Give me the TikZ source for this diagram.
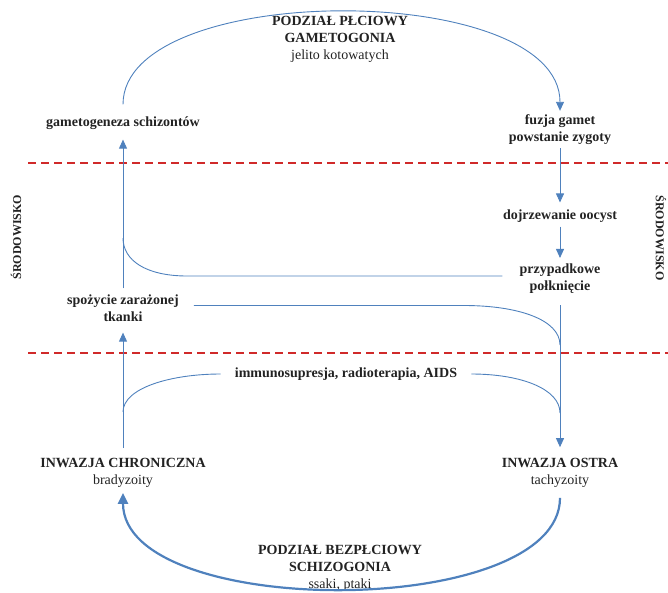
\documentclass[tikz,border=0pt]{standalone}
\usepackage{fontspec}
\setmainfont{Liberation Serif}
\usepackage{tikz}
\usetikzlibrary{arrows.meta}
\definecolor{Ink}{HTML}{222222}
\definecolor{Flow}{HTML}{4F81BD}
\definecolor{Border}{HTML}{D02A2A}
\tikzset{
  stage/.style={font=\fontsize{14}{17}\selectfont\bfseries,text=Ink,align=center,inner sep=2pt},
  side/.style={font=\fontsize{12}{14}\selectfont\bfseries,text=Ink,inner sep=0pt},
  link/.style={draw=Flow,line width=0.9pt},
  arrow/.style={link,-{Triangle[length=9pt,width=8pt]}},
  mainarrow/.style={draw=Flow,line width=2.2pt,-{Triangle[length=11pt,width=10pt]}},
  border/.style={draw=Border,line width=1.6pt,dash pattern=on 8pt off 5pt}
}
\begin{document}
\begin{tikzpicture}[x=1pt,y=-1pt]
  \useasboundingbox (0,0) rectangle (668,592);
  \node[stage] (sexual) at (340,39) {PODZIAŁ PŁCIOWY\\GAMETOGONIA\\\mdseries jelito kotowatych};
  \node[stage] (gameto) at (123,123) {gametogeneza schizontów};
  \node[stage] (fusion) at (560,130) {fuzja gamet\\powstanie zygoty};
  \node[stage] (oocyst) at (560,216) {dojrzewanie oocyst};
  \node[stage] (swallow) at (560,279) {przypadkowe\\połknięcie};
  \node[stage] (tissue) at (123,308) {spożycie zarażonej\\tkanki};
  \node[stage] (immuno) at (346,374) {immunosupresja, radioterapia, AIDS};
  \node[stage] (chronic) at (123,473) {INWAZJA CHRONICZNA\\\mdseries bradyzoity};
  \node[stage] (acute) at (560,473) {INWAZJA OSTRA\\\mdseries tachyzoity};
  \node[stage] (asexual) at (340,568) {PODZIAŁ BEZPŁCIOWY\\SCHIZOGONIA\\\mdseries ssaki, ptaki};
  \node[side,rotate=90] (envL) at (16,237) {ŚRODOWISKO};
  \node[side,rotate=-90] (envR) at (661,238) {ŚRODOWISKO};
  \coordinate (envTopA) at (28,163);
  \coordinate (envTopB) at (668,163);
  \coordinate (envBotA) at (28,353);
  \coordinate (envBotB) at (668,353);
  \draw[border] (envTopA) -- (envTopB);
  \draw[border] (envBotA) -- (envBotB);
  \coordinate (joinL) at (123,238);
  \coordinate (joinR) at (560,345);
  \coordinate (splitL) at (123,412);
  \coordinate (splitR) at (560,413);
  \draw[arrow] ([yshift=10pt]gameto.north) .. controls (123,-20) and (560,-20) .. ([yshift=2pt]fusion.north);
  \draw[arrow,shorten <=1pt,shorten >=5pt] (fusion.south) -- (oocyst.north);
  \draw[arrow,shorten <=2pt,shorten >=4pt] (oocyst.south) -- (swallow.north);
  \draw[link] ([shift={(-15,-3)}]swallow.west) -- +(-315,0) .. controls +(-42,0) and +(0,22) .. (joinL);
  \draw[arrow,shorten <=4pt,shorten >=8pt] (tissue.north) -- (gameto.south);
  \draw[link] ([shift={(13,-2.5)}]tissue.east) -- +(270,0) .. controls +(55,0) and +(0,-25) .. (joinR);
  \draw[arrow,shorten <=9pt,shorten >=9pt] (swallow.south) -- (acute.north);
  \draw[arrow,shorten <=8pt,shorten >=9pt] (chronic.north) -- (tissue.south);
  \draw[link] (splitL) .. controls +(0,-24) and +(-50,0) .. ([xshift=-12pt]immuno.west);
  \draw[link] ([xshift=12pt]immuno.east) .. controls +(50,0) and +(0,-24) .. (splitR);
  \draw[mainarrow] ([yshift=-8pt]acute.south) .. controls (560,620) and (123,620) .. ([yshift=-3pt]chronic.south);
\end{tikzpicture}
\end{document}
